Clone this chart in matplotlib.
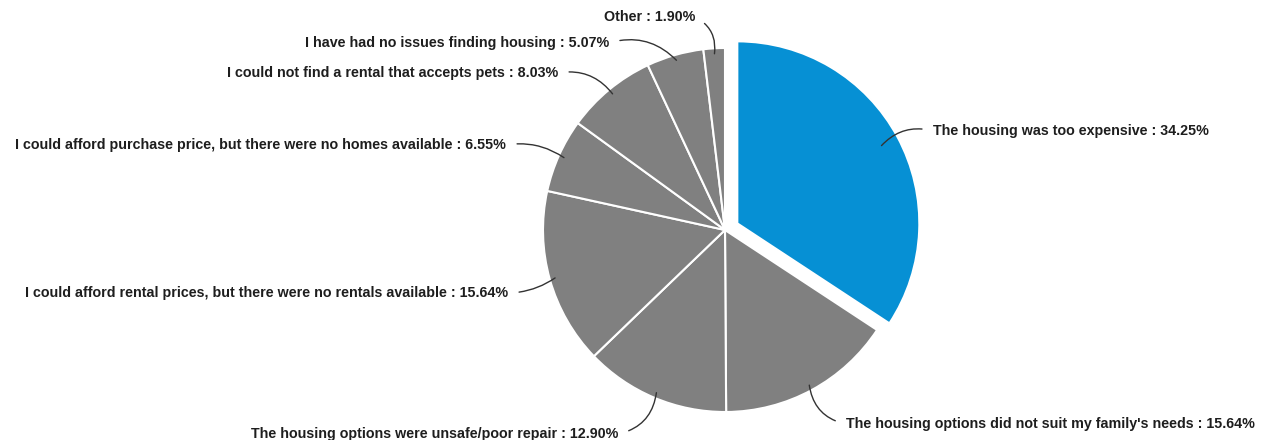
import numpy as np
import matplotlib.pyplot as plt

plt.rcParams['font.family'] = ['Liberation Sans', 'DejaVu Sans']

reasons = [
    "The housing was too expensive",
    "The housing options did not suit my family's needs",
    "The housing options were unsafe/poor repair",
    "I could afford rental prices, but there were no rentals available",
    "I could afford purchase price, but there were no homes available",
    "I could not find a rental that accepts pets",
    "I have had no issues finding housing",
    "Other",
]
shares = [34.25, 15.64, 12.90, 15.64, 6.55, 8.03, 5.07, 1.90]
colors = ['#0690d4'] + ['#808080'] * 7

# label anchor (pixel coords, y up), alignment and curve of its leader line
label_pos = [
    (933, 309, 'left', 0.3),
    (846, 16, 'left', -0.35),
    (618, 6, 'right', 0.35),
    (508, 147, 'right', 0.15),
    (506, 295, 'right', -0.2),
    (558, 367, 'right', -0.3),
    (609, 397, 'right', -0.3),
    (695, 423, 'right', -0.35),
]

fig = plt.figure(figsize=(12.7, 4.4), dpi=100)
ax = fig.add_axes([0, 0, 1, 1])

cx, cy, r = 725, 210, 182
explode = [14] + [0] * 7
wedges, _ = ax.pie(shares, colors=colors, explode=explode, startangle=90,
                   counterclock=False, center=(cx, cy), radius=r,
                   wedgeprops=dict(edgecolor='white', linewidth=1.5))
ax.set_xlim(0, 1270)
ax.set_ylim(0, 440)
ax.set_aspect('equal')
ax.axis('off')

for w, name, val, (tx, ty, ha, rad) in zip(wedges, reasons, shares, label_pos):
    ang = np.deg2rad((w.theta1 + w.theta2) / 2)
    x0, y0 = w.center
    k = 0.9 if w is wedges[0] else 0.97
    px = x0 + k * r * np.cos(ang)
    py = y0 + k * r * np.sin(ang)
    ax.annotate(f"{name} : {val:.2f}%", xy=(px, py), xytext=(tx, ty),
                ha=ha, va='center', fontsize=10.3, fontweight='bold', color='#1e1e1e',
                arrowprops=dict(arrowstyle='-', color='#333333', lw=1,
                                relpos=(0, 0.5) if ha == 'left' else (1, 0.5),
                                shrinkA=6, shrinkB=0,
                                connectionstyle=f'arc3,rad={rad}'))

fig.savefig('out.png', dpi=100, facecolor='white')
